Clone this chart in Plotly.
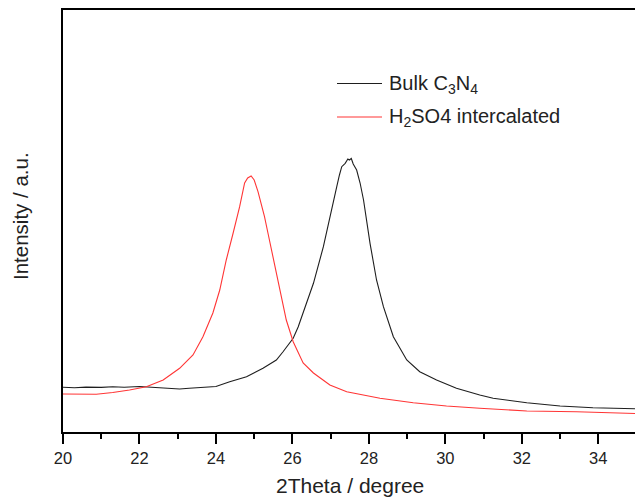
import plotly.graph_objects as go

# 2Theta positions (degree) and intensities (a.u.)
bulk_x = [20.0, 20.3, 20.6, 21.0, 21.3, 21.6, 22.0, 22.3, 22.7, 23.05, 23.3, 23.7, 24.0,
          24.36, 24.8, 25.23, 25.58, 25.75, 25.9, 26.02, 26.15, 26.28, 26.55, 26.81, 27.07,
          27.16, 27.23, 27.29, 27.38, 27.45, 27.49, 27.54, 27.59, 27.68, 27.77, 27.86,
          28.03, 28.2, 28.38, 28.64, 28.99, 29.33, 29.77, 30.29, 30.9, 31.25, 32.13, 33.0,
          33.86, 34.9, 35.0]
bulk_y = [447, 443, 449, 446, 452, 448, 455, 446, 440, 430, 438, 444, 455,
          503, 553, 637, 720, 800, 870, 937, 1050, 1187, 1487, 1853, 2320,
          2453, 2570, 2653, 2687, 2730, 2720, 2735, 2680, 2620, 2490, 2320,
          1887, 1520, 1253, 953, 720, 603, 520, 437, 370, 337, 293, 260,
          243, 233, 232]

h2so4_x = [20.0, 20.4, 20.87, 21.3, 21.74, 22.18, 22.62, 23.05, 23.4, 23.66, 23.92, 24.1,
           24.27, 24.45, 24.62, 24.75, 24.83, 24.92, 25.0, 25.1, 25.18, 25.27, 25.36,
           25.45, 25.61, 25.67, 25.77, 25.84, 26.02, 26.28, 26.55, 26.98, 27.42, 28.29,
           29.16, 30.03, 30.9, 32.13, 33.43, 34.9, 35.0]
h2so4_y = [380, 376, 377, 395, 420, 453, 520, 637, 770, 953, 1190, 1420,
           1720, 1990, 2253, 2490, 2540, 2560, 2520, 2403, 2290, 2153, 1990,
           1820, 1520, 1420, 1220, 1120, 903, 690, 590, 470, 403, 337,
           293, 260, 237, 210, 203, 187, 185]

x_ticks = [20, 22, 24, 26, 28, 30, 32, 34]

bulk_name = "Bulk C<sub>3</sub>N<sub>4</sub>"
h2so4_name = "H<sub>2</sub>SO4 intercalated"
bulk_color = "#1e1e1e"
h2so4_color = "#ff3535"

FONT = "Liberation Sans, Arial, sans-serif"
TXT = "#222222"

W, H = 635, 497
L, R, T, B = 63, 0, 10, 65
pw, ph = W - L - R, H - T - B


def px(xp):
    return (xp - L) / pw


def py(yp):
    return (H - B - yp) / ph


fig = go.Figure()
fig.add_trace(go.Scatter(x=bulk_x, y=bulk_y, mode="lines", name=bulk_name,
                         line=dict(color=bulk_color, width=1.1), showlegend=False))
fig.add_trace(go.Scatter(x=h2so4_x, y=h2so4_y, mode="lines", name=h2so4_name,
                         line=dict(color=h2so4_color, width=1.1), showlegend=False))

# legend drawn as line samples + text
shapes = []
annotations = []
for name, color, yl in [(bulk_name, bulk_color, 83.5), (h2so4_name, h2so4_color, 117)]:
    shapes.append(dict(type="line", xref="paper", yref="paper",
                       x0=px(337), x1=px(382), y0=py(yl), y1=py(yl),
                       line=dict(color=color, width=1.1)))
    annotations.append(dict(text=name, xref="paper", yref="paper", x=px(387), y=py(yl + 1),
                            xanchor="left", yanchor="middle", showarrow=False,
                            font=dict(size=20, family=FONT, color=TXT)))

annotations.append(dict(text="2Theta / degree", xref="paper", yref="paper",
                        x=px(350), y=py(485), xanchor="center", yanchor="middle",
                        showarrow=False, font=dict(size=21, family=FONT, color=TXT)))
annotations.append(dict(text="Intensity / a.u.", xref="paper", yref="paper",
                        x=px(20), y=py(216), xanchor="center", yanchor="middle",
                        textangle=-90, showarrow=False,
                        font=dict(size=20.5, family=FONT, color=TXT)))

fig.update_layout(
    width=W, height=H,
    margin=dict(l=L, r=R, t=T, b=B),
    paper_bgcolor="white", plot_bgcolor="white",
    font=dict(family=FONT, color=TXT),
    showlegend=False,
    xaxis=dict(range=[20, 34.96], tickvals=x_ticks, ticks="outside", ticklen=10,
               tickwidth=1.5, tickcolor="black", showline=True, linecolor="black",
               linewidth=1.8, mirror=True, showgrid=False, zeroline=False,
               tickfont=dict(size=16.5, family=FONT, color=TXT),
               minor=dict(dtick=1, ticks="outside", ticklen=5, tickwidth=1.5,
                          tickcolor="black", showgrid=False)),
    yaxis=dict(range=[0, 4220], showticklabels=False, ticks="", showline=True,
               linecolor="black", linewidth=1.8, mirror=False, showgrid=False,
               zeroline=False),
    shapes=shapes,
    annotations=annotations,
)

fig.write_html("out.html")
